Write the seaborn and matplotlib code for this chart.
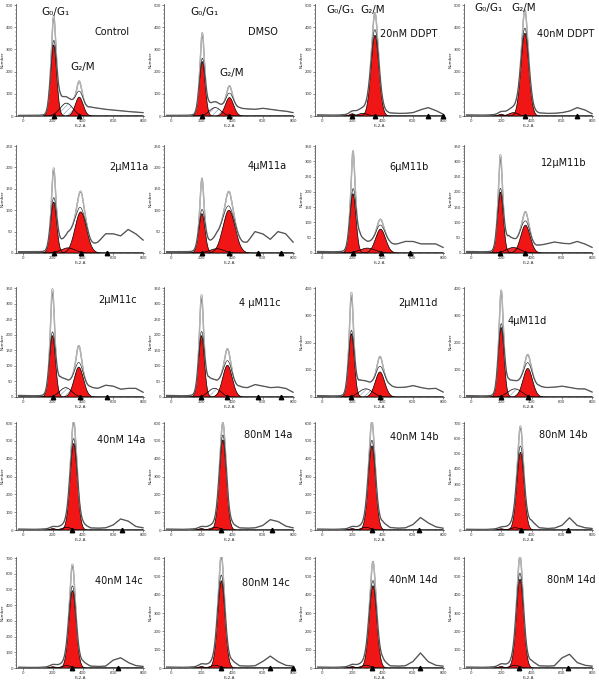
import numpy as np
import pandas as pd
import matplotlib
matplotlib.use("Agg")
import matplotlib.pyplot as plt
import seaborn as sns
from matplotlib.ticker import MultipleLocator

# panel titles, read left->right, top->bottom
names = ["Control", "DMSO", "20nM DDPT", "40nM DDPT",
         "2μM11a", "4μM11a", "6μM11b", "12μM11b",
         "2μM11c", "4 μM11c", "2μM11d", "4μM11d",
         "40nM 14a", "80nM 14a", "40nM 14b", "80nM 14b",
         "40nM 14c", "80nM 14c", "40nM 14d", "80nM 14d"]

ymax = [500, 500, 500, 500,
        250, 250, 350, 350,
        350, 350, 400, 400,
        600, 600, 600, 700,
        700, 600, 600, 600]

# G0/G1 fit: centre, fitted height, sd, raw peak height
g1 = [(205, 320, 20, 430), (205, 245, 19, 360), (200, 10, 17, 10), (200, 8, 17, 8),
      (205, 119, 20, 188), (203, 92, 20, 165), (205, 194, 20, 318), (195, 199, 19, 309),
      (197, 197, 20, 335), (200, 197, 19, 315), (195, 232, 19, 371), (200, 255, 19, 378),
      (200, 8, 17, 8), (200, 8, 17, 8), (200, 8, 17, 8), (200, 8, 17, 8),
      (200, 8, 17, 8), (200, 8, 17, 8), (200, 8, 17, 8), (200, 8, 17, 8)]

# G2/M fit: centre, fitted height, sd, raw peak height
g2 = [(375, 85, 26, 130), (383, 83, 27, 116), (350, 364, 26, 440), (356, 373, 26, 455),
      (385, 96, 38, 134), (380, 100, 40, 134), (387, 78, 33, 97), (360, 91, 31, 121),
      (372, 96, 31, 150), (370, 102, 31, 140), (383, 92, 31, 128), (375, 105, 31, 135),
      (338, 485, 24, 583), (340, 505, 23, 574), (330, 472, 24, 578), (327, 508, 24, 638),
      (330, 492, 24, 629), (330, 476, 24, 584), (337, 449, 25, 553), (324, 485, 24, 578)]

# S phase: centre, height, sd
s_phase = [(290, 58, 42), (290, 38, 38), (270, 12, 30), (280, 15, 30),
           (300, 12, 45), (300, 10, 45), (300, 16, 50), (280, 18, 45),
           (285, 30, 40), (285, 28, 40), (290, 30, 45), (290, 30, 45),
           (290, 15, 30), (290, 15, 30), (290, 15, 30), (290, 15, 30),
           (290, 15, 30), (290, 15, 30), (290, 15, 30), (290, 15, 30)]
s_kind = ["hatch", "hatch", "red", "red",
          "red", "red", "red", "red",
          "hatch", "hatch", "hatch", "hatch",
          "red", "red", "red", "red",
          "red", "red", "red", "red"]

# debris / aggregate background, FL2-A = 0, 50, ..., 800
bg_x = np.arange(0, 801, 50)
bg = [[3, 3, 3, 5, 10, 40, 25, 15, 25, 40, 35, 30, 27, 24, 20, 18, 15],
      [3, 3, 3, 5, 10, 30, 25, 15, 20, 35, 32, 30, 35, 30, 25, 22, 15],
      [5, 4, 4, 6, 12, 22, 30, 25, 25, 14, 12, 12, 15, 28, 38, 25, 8],
      [5, 4, 4, 6, 12, 20, 28, 22, 25, 14, 12, 12, 15, 22, 38, 28, 10],
      [3, 3, 3, 4, 8, 20, 30, 15, 5, 10, 25, 45, 45, 40, 55, 45, 30],
      [3, 3, 3, 4, 8, 20, 25, 12, 5, 15, 25, 50, 45, 32, 50, 45, 25],
      [5, 4, 4, 6, 10, 45, 20, 10, 10, 25, 30, 38, 38, 30, 30, 30, 18],
      [5, 4, 4, 6, 10, 40, 18, 10, 12, 25, 30, 36, 32, 30, 38, 30, 18],
      [5, 4, 4, 6, 10, 40, 20, 10, 15, 30, 28, 38, 35, 25, 28, 28, 15],
      [5, 4, 4, 6, 10, 40, 20, 10, 15, 32, 30, 40, 35, 30, 32, 28, 15],
      [5, 4, 4, 6, 10, 40, 25, 12, 20, 38, 35, 36, 42, 35, 30, 32, 18],
      [5, 4, 4, 6, 10, 40, 25, 12, 20, 38, 35, 36, 40, 35, 30, 30, 18],
      [5, 4, 4, 6, 12, 18, 22, 25, 35, 12, 10, 12, 28, 62, 50, 20, 12],
      [5, 4, 4, 6, 12, 18, 22, 25, 35, 12, 10, 12, 25, 58, 48, 22, 12],
      [5, 4, 4, 6, 12, 18, 22, 28, 45, 14, 10, 12, 30, 70, 40, 18, 10],
      [5, 4, 4, 6, 12, 25, 35, 35, 60, 15, 10, 12, 30, 80, 30, 15, 10],
      [5, 4, 4, 6, 15, 20, 25, 25, 40, 12, 10, 12, 50, 65, 35, 15, 10],
      [5, 4, 4, 6, 15, 20, 25, 25, 40, 12, 10, 12, 35, 65, 35, 15, 10],
      [5, 4, 4, 6, 12, 18, 22, 25, 45, 12, 10, 12, 35, 82, 35, 15, 10],
      [5, 4, 4, 6, 15, 20, 25, 25, 40, 12, 10, 12, 55, 75, 30, 15, 10]]

marks = [[205, 375], [205, 383], [200, 350, 700, 800], [356, 700],
         [205, 385, 560], [203, 380, 570, 720], [205, 387, 580], [195, 360],
         [200, 380, 560], [200, 370, 570, 720], [195, 385], [200, 375],
         [330, 660], [330, 660], [330, 640], [330, 640],
         [325, 630], [330, 645, 800], [330, 645], [320, 640]]

# layout (pixels) and label places (axes fraction)
col_left = [16, 164, 315, 464]
col_w = [128, 130, 129, 129]
rows_tb = [(4, 116), (145, 253), (287, 397), (422, 530), (557, 668)]
label_xy = [(0.75, 0.75), (0.76, 0.75), (0.73, 0.73), (0.79, 0.73),
            (0.88, 0.80), (0.79, 0.81), (0.73, 0.80), (0.77, 0.83),
            (0.79, 0.88), (0.74, 0.85), (0.80, 0.85), (0.49, 0.69),
            (0.82, 0.83), (0.80, 0.88), (0.77, 0.86), (0.77, 0.88),
            (0.80, 0.78), (0.78, 0.77), (0.76, 0.79), (0.83, 0.79)]
g_labels = {0: [(0.31, 0.93), (0.52, 0.44)], 1: [(0.31, 0.93), (0.52, 0.38)],
            2: [(0.20, 0.95), (0.45, 0.95)], 3: [(0.19, 0.96), (0.46, 0.96)]}

sns.set_style("ticks")
plt.rcParams["font.family"] = ["DejaVu Sans"]
plt.rcParams["hatch.linewidth"] = 0.4

RED = "#f01616"
x = np.linspace(-30, 800, 831)


def gauss(c, h, sd):
    return h * np.exp(-(x - c) ** 2 / (2.0 * sd ** 2))


fig = plt.figure(figsize=(5.99, 6.88), dpi=100)
FW, FH = 599.0, 688.0

for i, name in enumerate(names):
    r, c = divmod(i, 4)
    top, bot = rows_tb[r]
    ax = fig.add_axes([col_left[c] / FW, 1 - bot / FH, col_w[c] / FW, (bot - top) / FH])

    c1, h1, s1, r1 = g1[i]
    c2, h2, s2, r2 = g2[i]
    cs, hs, ss = s_phase[i]
    red1 = gauss(c1, h1, s1)
    red2 = gauss(c2, h2, s2)
    sp = gauss(cs, hs, ss)
    back = np.interp(x, bg_x, bg[i])
    spike = gauss(c1, r1 - h1, s1 * 0.5) + gauss(c2, r2 - h2, s2 * 0.5)
    fit = red1 + red2 + sp + back
    raw = fit + spike

    df = pd.DataFrame({"FL2-A": x, "raw": raw, "fit": fit})

    # S phase component
    if s_kind[i] == "hatch":
        ax.fill_between(x, sp, facecolor="white", hatch="//////",
                        edgecolor="#8292b4", lw=0)
    else:
        ax.fill_between(x, sp, facecolor=RED, edgecolor="none", alpha=0.9)
    ax.plot(x, sp, color="black", lw=0.5)

    # G0/G1 and G2/M fits
    ax.fill_between(x, red1, facecolor=RED, edgecolor="none")
    ax.fill_between(x, red2, facecolor=RED, edgecolor="none")
    ax.plot(x, red1, color="black", lw=0.5)
    ax.plot(x, red2, color="black", lw=0.5)

    sns.lineplot(data=df, x="FL2-A", y="raw", ax=ax, color="#7a7a7a", lw=1.0,
                 estimator=None, sort=False)
    sns.lineplot(data=df, x="FL2-A", y="raw", ax=ax, color="white", lw=0.3,
                 estimator=None, sort=False)
    sns.lineplot(data=df, x="FL2-A", y="fit", ax=ax, color="#222222", lw=0.45,
                 estimator=None, sort=False)

    ax.plot(marks[i], [0] * len(marks[i]), ls="none", marker="^", ms=3.2,
            color="black", clip_on=False, zorder=5)

    ax.set_xlim(-45, 805)
    ax.set_ylim(0, ymax[i] * 1.01)
    ax.xaxis.set_major_locator(MultipleLocator(200))
    ax.xaxis.set_minor_locator(MultipleLocator(50))
    step = 50 if ymax[i] < 400 else 100
    ax.yaxis.set_major_locator(MultipleLocator(step))
    ax.yaxis.set_minor_locator(MultipleLocator(step / 5))
    ax.tick_params(which="major", labelsize=2.8, length=1.5, width=0.4, pad=0.8,
                   colors="#333333")
    ax.tick_params(which="minor", length=0.9, width=0.3, colors="#333333")
    ax.set_xlabel("FL2-A", fontsize=3, labelpad=0.8)
    ax.set_ylabel("Number", fontsize=3, labelpad=0.5)
    for sp_name in ["left", "bottom"]:
        ax.spines[sp_name].set_linewidth(0.5)
        ax.spines[sp_name].set_color("#333333")
    sns.despine(ax=ax)

    lx, ly = label_xy[i]
    ax.text(lx, ly, name, transform=ax.transAxes, fontsize=7, ha="center",
            va="center", color="#111111")
    if i in g_labels:
        (ax1, ay1), (ax2, ay2) = g_labels[i]
        ax.text(ax1, ay1, "G₀/G₁", transform=ax.transAxes, fontsize=7.5,
                ha="center", va="center", color="#111111")
        ax.text(ax2, ay2, "G₂/M", transform=ax.transAxes, fontsize=7.5,
                ha="center", va="center", color="#111111")

fig.savefig("out.png", dpi=100)
